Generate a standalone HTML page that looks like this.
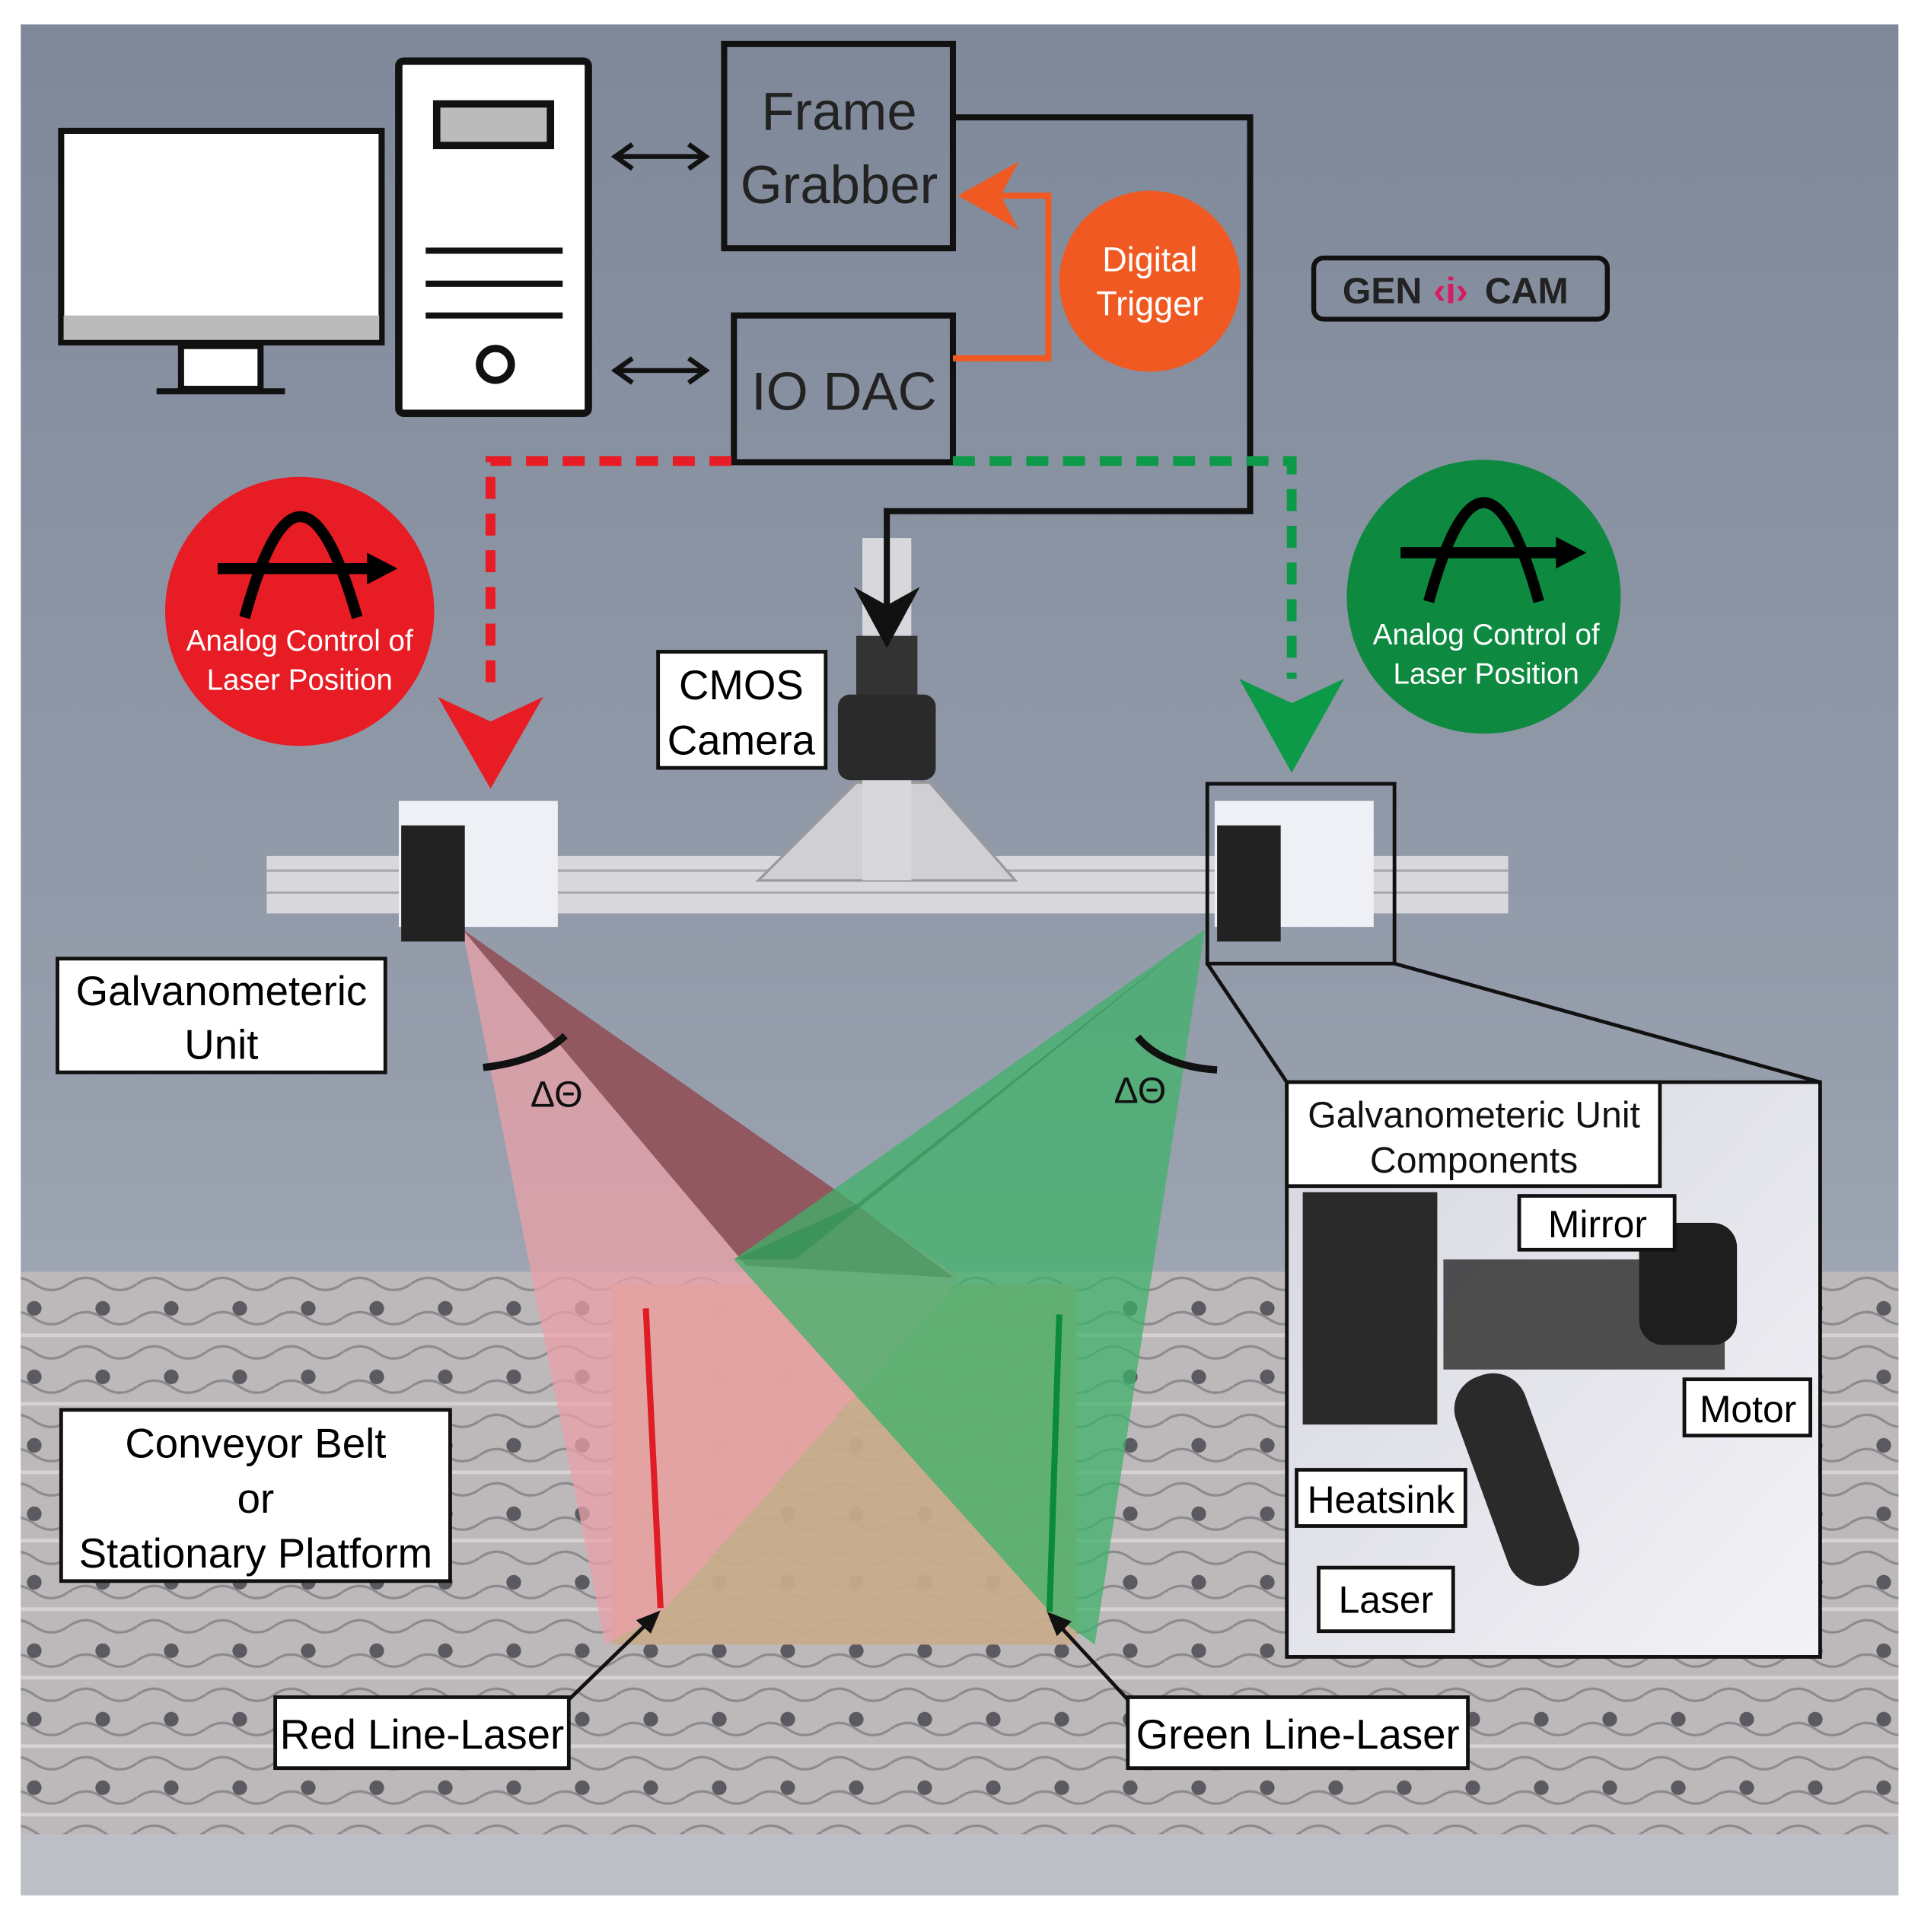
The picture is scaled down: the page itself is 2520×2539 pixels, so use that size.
<!DOCTYPE html>
<html><head><meta charset="utf-8"><style>
html,body{margin:0;padding:0;background:#fff}
svg{display:block}
text{font-family:"Liberation Sans",sans-serif}
</style></head><body>
<svg width="2520" height="2539" viewBox="0 0 1568 1580" preserveAspectRatio="none" xmlns="http://www.w3.org/2000/svg">
<defs>
<linearGradient id="bg" x1="0" y1="0" x2="0" y2="1">
<stop offset="0" stop-color="#7e8899"/><stop offset="0.6" stop-color="#98a0ae"/><stop offset="1" stop-color="#b8bcc4"/>
</linearGradient>
<pattern id="belt" width="56" height="56" patternUnits="userSpaceOnUse">
<rect width="56" height="56" fill="#bdb9bb"/>
<path d="M0 14 Q14 4 28 14 T56 14 M0 42 Q14 32 28 42 T56 42" stroke="#8c8a8e" stroke-width="2" fill="none"/>
<circle cx="28" cy="6" r="6" fill="#5a5a60"/>
<line x1="0" y1="28" x2="56" y2="28" stroke="#d8d2d2" stroke-width="3"/>
</pattern>
<linearGradient id="comp" x1="0" y1="0" x2="1" y2="1"><stop offset="0" stop-color="#d6d6e0"/><stop offset="1" stop-color="#f2f2f6"/></linearGradient>
</defs>
<rect width="1568" height="1580" fill="#fff"/>
<rect x="17" y="20" width="1535" height="1530" fill="url(#bg)"/>
<rect x="17" y="1040" width="1535" height="460" fill="url(#belt)"/>
<rect x="17" y="1500" width="1535" height="50" fill="#bdbfc6"/>
<!-- product tray -->
<polygon points="500,1050 880,1050 880,1345 500,1345" fill="#c7ab8b" opacity="0.95"/>
<!-- beams -->
<polygon points="378,760 785,1045 540,1320 495,1345" fill="#eba0a8" opacity="0.75"/>
<polygon points="378,760 700,985 780,1045 610,1035" fill="#8a5056" opacity="0.9"/>
<polygon points="985,760 600,1030 860,1320 895,1345" fill="#3fb16a" opacity="0.75"/>
<polygon points="985,760 700,985 600,1030 650,1030" fill="#2e8f52" opacity="0.6"/>
<line x1="528" y1="1070" x2="540" y2="1315" stroke="#e01c24" stroke-width="5"/>
<line x1="866" y1="1075" x2="858" y2="1318" stroke="#0a8a3a" stroke-width="5"/>
<!-- angle arcs -->
<path d="M395 873 Q440 868 462 847" stroke="#111" stroke-width="6" fill="none"/>
<path d="M930 848 Q950 872 995 875" stroke="#111" stroke-width="6" fill="none"/>
<text x="455" y="905" font-size="30" text-anchor="middle" fill="#111">ΔΘ</text>
<text x="932" y="902" font-size="30" text-anchor="middle" fill="#111">ΔΘ</text>
<!-- rail -->
<rect x="218" y="700" width="1015" height="47" fill="#d8d8dc"/>
<line x1="218" y1="712" x2="1233" y2="712" stroke="#a8a8ae" stroke-width="2"/>
<line x1="218" y1="730" x2="1233" y2="730" stroke="#a8a8ae" stroke-width="2"/>
<polygon points="620,720 700,640 760,640 830,720" fill="#cfcfd4" stroke="#999" stroke-width="2"/>
<rect x="705" y="440" width="40" height="280" fill="#d8d8dc"/>
<rect x="700" y="520" width="50" height="60" fill="#333"/>
<rect x="685" y="568" width="80" height="70" rx="10" fill="#2a2a2a"/>
<!-- galvo units -->
<rect x="326" y="655" width="130" height="103" fill="#eef0f5"/>
<rect x="328" y="675" width="52" height="95" fill="#222"/>
<rect x="993" y="655" width="130" height="103" fill="#eef0f5"/>
<rect x="995" y="675" width="52" height="95" fill="#222"/>
<rect x="987" y="641" width="153" height="147" fill="none" stroke="#111" stroke-width="3"/>
<line x1="987" y1="788" x2="1052" y2="885" stroke="#111" stroke-width="3"/>
<line x1="1140" y1="788" x2="1488" y2="885" stroke="#111" stroke-width="3"/>
<!-- components inset -->
<rect x="1052" y="885" width="436" height="470" fill="url(#comp)" stroke="#111" stroke-width="3"/>
<rect x="1065" y="975" width="110" height="190" fill="#2a2a2a"/>
<rect x="1180" y="1030" width="230" height="90" fill="#333" opacity="0.85"/>
<rect x="1340" y="1000" width="80" height="100" rx="20" fill="#1e1e1e"/>
<rect x="1210" y="1120" width="60" height="180" rx="28" fill="#2a2a2a" transform="rotate(-20 1240 1210)"/>
<rect x="1052" y="885" width="305" height="85" fill="#fff" stroke="#111" stroke-width="3"/>
<text x="1205" y="922" font-size="30" text-anchor="middle" fill="#111">Galvanometeric Unit</text>
<text x="1205" y="959" font-size="30" text-anchor="middle" fill="#111">Components</text>
<rect x="1242" y="978" width="127" height="44" fill="#fff" stroke="#111" stroke-width="3"/>
<text x="1306" y="1012" font-size="31" text-anchor="middle">Mirror</text>
<rect x="1377" y="1128" width="103" height="46" fill="#fff" stroke="#111" stroke-width="3"/>
<text x="1429" y="1163" font-size="31" text-anchor="middle">Motor</text>
<rect x="1060" y="1202" width="138" height="46" fill="#fff" stroke="#111" stroke-width="3"/>
<text x="1129" y="1237" font-size="31" text-anchor="middle">Heatsink</text>
<rect x="1078" y="1282" width="110" height="52" fill="#fff" stroke="#111" stroke-width="3"/>
<text x="1133" y="1319" font-size="31" text-anchor="middle">Laser</text>
<!-- monitor -->
<rect x="50" y="107" width="262" height="173" fill="#fff" stroke="#111" stroke-width="5"/>
<rect x="52" y="258" width="258" height="20" fill="#bbb"/>
<rect x="148" y="283" width="65" height="35" fill="#fff" stroke="#111" stroke-width="5"/>
<line x1="128" y1="320" x2="233" y2="320" stroke="#111" stroke-width="5"/>
<!-- tower -->
<rect x="326" y="50" width="155" height="288" rx="4" fill="#fff" stroke="#111" stroke-width="6"/>
<rect x="357" y="85" width="93" height="34" fill="#bbb" stroke="#111" stroke-width="6"/>
<line x1="348" y1="205" x2="460" y2="205" stroke="#111" stroke-width="5"/>
<line x1="348" y1="232" x2="460" y2="232" stroke="#111" stroke-width="5"/>
<line x1="348" y1="258" x2="460" y2="258" stroke="#111" stroke-width="5"/>
<circle cx="405" cy="298" r="13" fill="none" stroke="#111" stroke-width="6"/>
<!-- double arrows -->
<g stroke="#111" stroke-width="4" fill="none">
<path d="M505 128H575M517 118L503 128 517 138M563 118L577 128 563 138"/>
<path d="M505 303H575M517 293L503 303 517 313M563 293L577 303 563 313"/>
</g>
<!-- boxes -->
<rect x="592" y="36" width="187" height="167" fill="none" stroke="#111" stroke-width="5"/>
<text x="686" y="106" font-size="44" text-anchor="middle" fill="#222">Frame</text>
<text x="686" y="166" font-size="44" text-anchor="middle" fill="#222">Grabber</text>
<rect x="600" y="258" width="179" height="120" fill="none" stroke="#111" stroke-width="5"/>
<text x="690" y="335" font-size="44" text-anchor="middle" fill="#222">IO DAC</text>
<!-- orange trigger line -->
<path d="M779 293H857V160H810" stroke="#f05a22" stroke-width="5" fill="none"/>
<polygon points="783,160 833,132 818,160 833,188" fill="#f05a22"/>
<circle cx="940" cy="230" r="74" fill="#f05a22"/>
<text x="940" y="222" font-size="28" text-anchor="middle" fill="#fff">Digital</text>
<text x="940" y="258" font-size="28" text-anchor="middle" fill="#fff">Trigger</text>
<!-- camera line -->
<path d="M779 96H1022V418H725V495" stroke="#111" stroke-width="5" fill="none"/>
<polygon points="725,530 698,480 725,495 752,480" fill="#111"/>
<!-- dashed -->
<path d="M598 377H401V570" stroke="#e81c24" stroke-width="8" stroke-dasharray="18,12" fill="none"/>
<polygon points="401,645 358,570 401,590 444,570" fill="#e81c24"/>
<path d="M779 377H1056V555" stroke="#0d9a48" stroke-width="8" stroke-dasharray="18,12" fill="none"/>
<polygon points="1056,632 1013,555 1056,575 1099,555" fill="#0d9a48"/>
<!-- circles -->
<circle cx="245" cy="500" r="110" fill="#e81c24"/>
<circle cx="1213" cy="488" r="112" fill="#0d8a40"/>
<g stroke="#000" stroke-width="9" fill="none">
<path d="M200 505 Q245 340 292 505"/><path d="M178 465H310"/>
<path d="M1168 492 Q1213 330 1258 492"/><path d="M1145 452H1280"/>
</g>
<polygon points="325,465 300,452 300,478" fill="#000"/>
<polygon points="1297,452 1272,439 1272,465" fill="#000"/>
<text x="245" y="532" font-size="24" text-anchor="middle" fill="#fff">Analog Control of</text>
<text x="245" y="564" font-size="24" text-anchor="middle" fill="#fff">Laser Position</text>
<text x="1215" y="527" font-size="24" text-anchor="middle" fill="#fff">Analog Control of</text>
<text x="1215" y="559" font-size="24" text-anchor="middle" fill="#fff">Laser Position</text>
<!-- genicam -->
<rect x="1074" y="211" width="240" height="50" rx="8" fill="none" stroke="#111" stroke-width="4"/>
<text x="1130" y="248" font-size="30" font-weight="bold" text-anchor="middle" fill="#222">GEN</text>
<text x="1186" y="248" font-size="30" font-weight="bold" text-anchor="middle" fill="#d81b60">‹i›</text>
<text x="1248" y="248" font-size="30" font-weight="bold" text-anchor="middle" fill="#222">CAM</text>
<!-- labels -->
<rect x="538" y="533" width="137" height="95" fill="#fff" stroke="#111" stroke-width="3"/>
<text x="606" y="572" font-size="34" text-anchor="middle">CMOS</text>
<text x="606" y="617" font-size="34" text-anchor="middle">Camera</text>
<rect x="47" y="784" width="268" height="93" fill="#fff" stroke="#111" stroke-width="3"/>
<text x="181" y="822" font-size="34" text-anchor="middle">Galvanometeric</text>
<text x="181" y="866" font-size="34" text-anchor="middle">Unit</text>
<rect x="50" y="1153" width="318" height="140" fill="#fff" stroke="#111" stroke-width="3"/>
<text x="209" y="1192" font-size="34" text-anchor="middle">Conveyor Belt</text>
<text x="209" y="1237" font-size="34" text-anchor="middle">or</text>
<text x="209" y="1282" font-size="34" text-anchor="middle">Stationary Platform</text>
<line x1="465" y1="1390" x2="535" y2="1322" stroke="#111" stroke-width="3"/>
<polygon points="540,1317 520,1325 532,1336" fill="#111"/>
<line x1="922" y1="1390" x2="862" y2="1325" stroke="#111" stroke-width="3"/>
<polygon points="856,1318 864,1338 876,1326" fill="#111"/>
<rect x="225" y="1388" width="240" height="58" fill="#fff" stroke="#111" stroke-width="3"/>
<text x="345" y="1430" font-size="34" text-anchor="middle">Red Line-Laser</text>
<rect x="922" y="1388" width="278" height="58" fill="#fff" stroke="#111" stroke-width="3"/>
<text x="1061" y="1430" font-size="34" text-anchor="middle">Green Line-Laser</text>
</svg>
</body></html>
